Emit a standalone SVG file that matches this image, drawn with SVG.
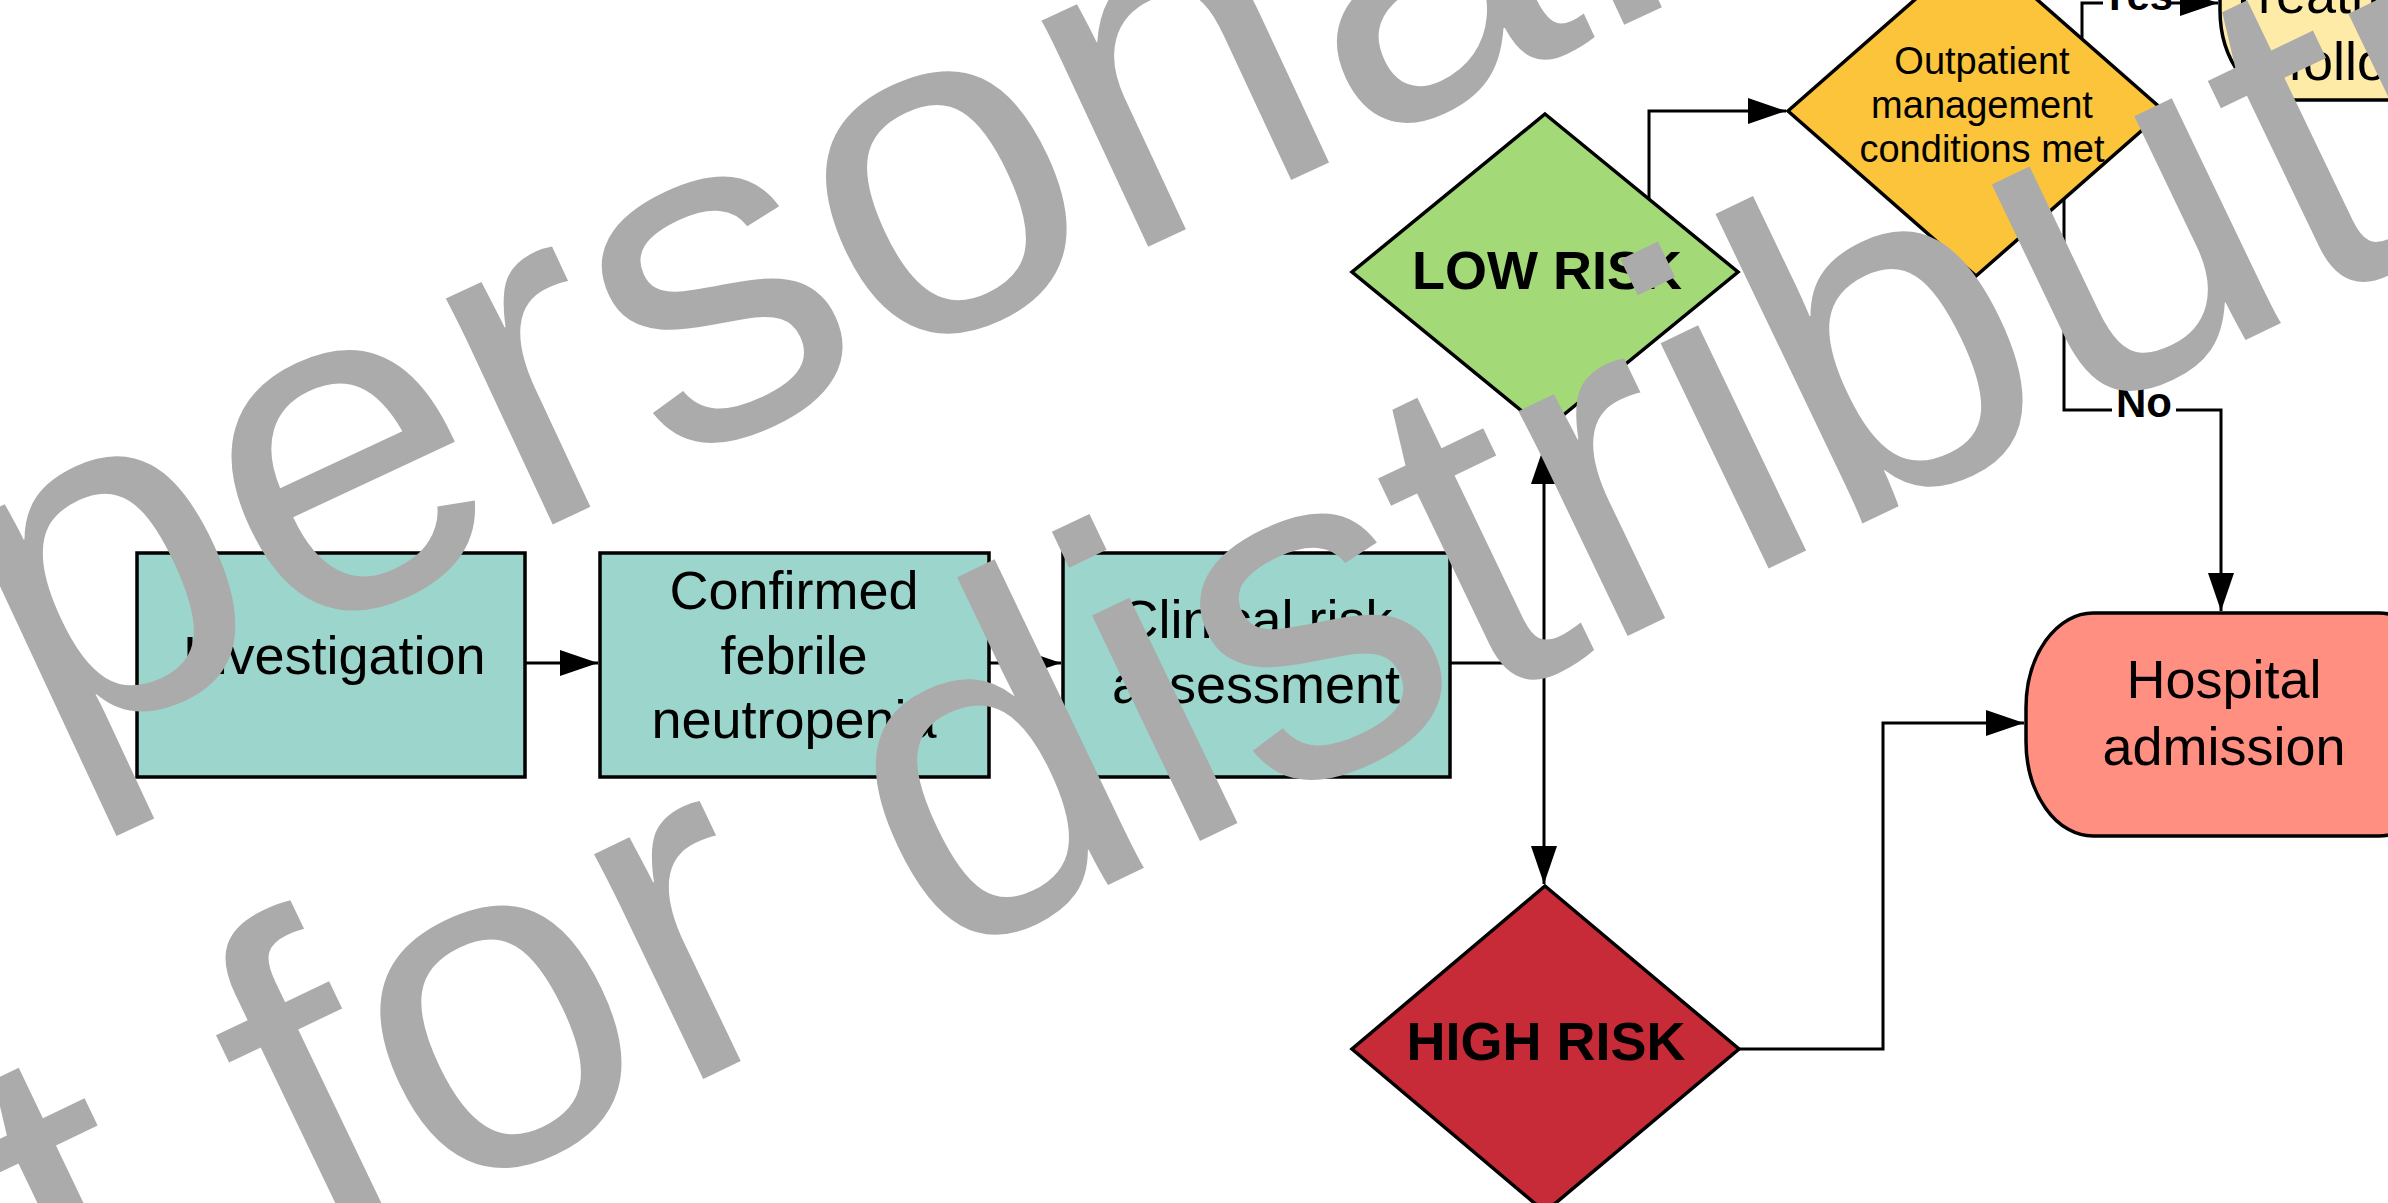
<svg xmlns="http://www.w3.org/2000/svg" width="2388" height="1203" viewBox="0 0 2388 1203">
<style>
.box{stroke:#000;stroke-width:3.5}
.t{font-family:"Liberation Sans",Arial,sans-serif;font-size:54px;fill:#000;text-anchor:middle}
.b{font-weight:bold}
.s{font-size:38px}
.lbl{font-family:"Liberation Sans",Arial,sans-serif;font-size:42px;font-weight:bold;fill:#000;text-anchor:middle}
.c{fill:none;stroke:#000;stroke-width:3}
.wm{font-family:"Liberation Sans",Arial,sans-serif;font-size:473px;fill:#ababab}
</style>
<defs>
<marker id="ah" markerWidth="38" markerHeight="26" refX="38" refY="13" orient="auto" markerUnits="userSpaceOnUse">
<path d="M0,0 L38,13 L0,26 z" fill="#000"/>
</marker>
</defs>
<rect width="2388" height="1203" fill="#fff"/>

<g id="connectors">
<path class="c" d="M525,663 H598" marker-end="url(#ah)"/>
<path class="c" d="M989,663 H1061" marker-end="url(#ah)"/>
<path class="c" d="M1450,663 H1544"/>
<path class="c" d="M1544,663 V446" marker-end="url(#ah)"/>
<path class="c" d="M1544,663 V884" marker-end="url(#ah)"/>
<path class="c" d="M1649,200 V111 H1786" marker-end="url(#ah)"/>
<path class="c" d="M1739,1049 H1883 V723 H2024" marker-end="url(#ah)"/>
<path class="c" d="M2082,38 V3 H2218" marker-end="url(#ah)"/>
<path class="c" d="M2064,197 V410 H2221 V611" marker-end="url(#ah)"/>
<g id="label-yes"><rect x="2103" y="-22" width="68" height="34" fill="#fff"/><text class="lbl" x="2137" y="10">Yes</text></g>
<g id="label-no"><rect x="2112" y="386" width="64" height="34" fill="#fff"/><text class="lbl" x="2144" y="417">No</text></g>
</g>

<g id="investigation">
<rect class="box" x="137" y="553" width="388" height="224" fill="#9bd5cb"/>
<text class="t" x="334" y="674">Investigation</text>
</g>
<g id="confirmed">
<rect class="box" x="600" y="553" width="389" height="224" fill="#9bd5cb"/>
<text class="t" x="794" y="609">Confirmed</text>
<text class="t" x="794" y="674">febrile</text>
<text class="t" x="794" y="738">neutropenia</text>
</g>
<g id="clinical">
<rect class="box" x="1063" y="553" width="387" height="224" fill="#9bd5cb"/>
<text class="t" x="1256" y="638">Clinical risk</text>
<text class="t" x="1256" y="703">assessment</text>
</g>
<g id="low-risk">
<polygon class="box" points="1545,114 1738,272 1545,430 1352,272" fill="#a3d977"/>
<text class="t b" x="1547" y="289">LOW RISK</text>
</g>
<g id="high-risk">
<polygon class="box" points="1545,886 1739,1049 1545,1212 1352,1049" fill="#c72b38"/>
<text class="t b" x="1546" y="1060">HIGH RISK</text>
</g>
<g id="outpatient">
<polygon class="box" points="1976,-54 2164,111 1976,276 1788,111" fill="#fbc43b"/>
<text class="t s" x="1982" y="74">Outpatient</text>
<text class="t s" x="1982" y="118">management</text>
<text class="t s" x="1982" y="162">conditions met</text>
</g>
<g id="treatment">
<rect class="box" x="2220" y="-110" width="400" height="210" rx="67" ry="90" fill="#ffeba8"/>
<text class="t" x="2227" y="13" style="text-anchor:start">Treatment</text>
<text class="t" x="2288" y="80" style="text-anchor:start">follow-up</text>
</g>
<g id="hospital">
<rect class="box" x="2026" y="613" width="420" height="223" rx="67" ry="95" fill="#ff8f80"/>
<text class="t" x="2224" y="698">Hospital</text>
<text class="t" x="2224" y="765">admission</text>
</g>

<g id="watermark">
<text class="wm" transform="translate(-716,1116) rotate(-25)">For personal use only</text>
<text class="wm" transform="translate(-464.4,1638.4) rotate(-25.6)">Not for distribution</text>
</g>
</svg>
